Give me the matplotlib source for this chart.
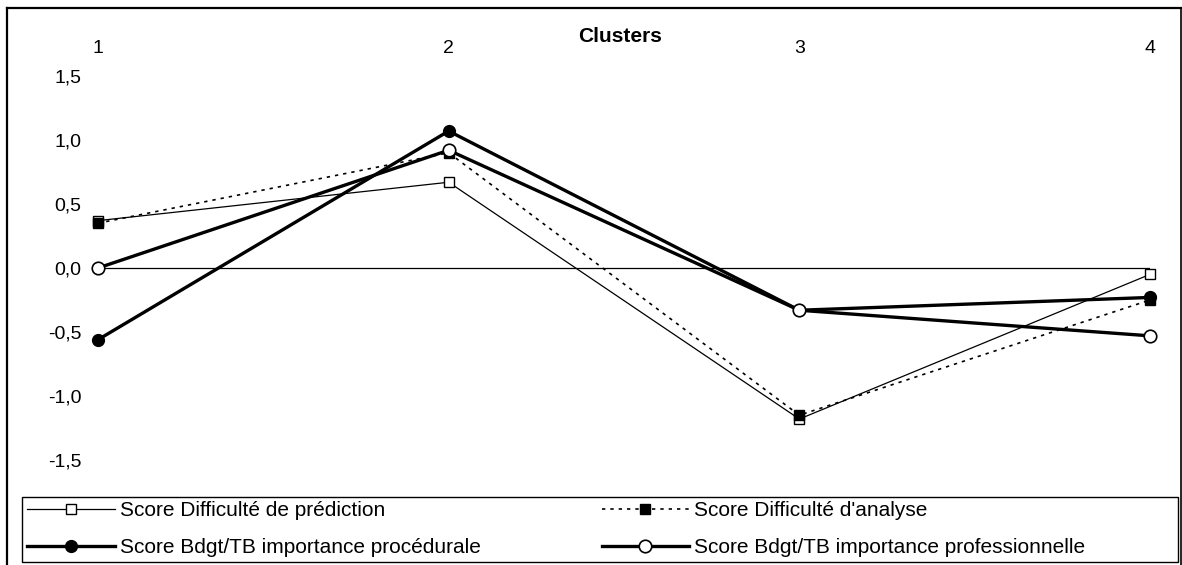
import matplotlib.pyplot as plt
from matplotlib.lines import Line2D
from matplotlib.patches import Rectangle

plt.rcParams['font.family'] = ['Liberation Sans', 'DejaVu Sans']

clusters = [1, 2, 3, 4]
cluster_labels = ['1', '2', '3', '4']
pred = [0.37, 0.67, -1.18, -0.05]
analyse = [0.35, 0.90, -1.15, -0.25]
proc = [-0.56, 1.07, -0.33, -0.23]
prof = [0.00, 0.92, -0.33, -0.53]
yticks = [1.5, 1.0, 0.5, 0.0, -0.5, -1.0, -1.5]
ytick_labels = ['1,5', '1,0', '0,5', '0,0', '-0,5', '-1,0', '-1,5']

W, H = 1182, 565
fig = plt.figure(figsize=(W / 100, H / 100), dpi=100)

# plot area in pixel terms (0 at y=268, 128 px per unit)
left, right, top, bottom = 98, 1150, 58, 490
ax = fig.add_axes([left / W, 1 - bottom / H, (right - left) / W, (bottom - top) / H])
ax.set_xlim(1, 4)
ax.set_ylim((268 - bottom) / 128, (268 - top) / 128)

ax.axhline(0, color='black', lw=0.9, zorder=1)

ax.plot(clusters, pred, color='black', lw=0.9, marker='s', ms=6.5,
        mfc='white', mec='black', mew=1, clip_on=False, zorder=3,
        label='Score Difficulté de prédiction')
ax.plot(clusters, analyse, color='black', lw=1.2, ls=(0, (2, 3)), marker='s', ms=6.5,
        mfc='black', mec='black', clip_on=False, zorder=4,
        label="Score Difficulté d'analyse")
ax.plot(clusters, proc, color='black', lw=2.4, marker='o', ms=8.5,
        mfc='black', mec='black', clip_on=False, zorder=5,
        label='Score Bdgt/TB importance procédurale')
ax.plot(clusters, prof, color='black', lw=2.4, marker='o', ms=9,
        mfc='white', mec='black', mew=1.2, clip_on=False, zorder=6,
        label='Score Bdgt/TB importance professionnelle')

for s in ax.spines.values():
    s.set_visible(False)
ax.xaxis.tick_top()
ax.set_xticks(clusters)
ax.set_xticklabels(cluster_labels, fontsize=14)
ax.tick_params(axis='x', length=0, pad=1)
ax.set_yticks(yticks)
ax.set_yticklabels(ytick_labels, fontsize=14)
ax.tick_params(axis='y', length=0, pad=12)

fig.text(620 / W, 1 - 36 / H, 'Clusters', ha='center', va='center',
         fontsize=15, fontweight='bold')

# outer frame
fig.add_artist(Line2D([7 / W, 7 / W], [0, 1 - 8 / H], color='black', lw=1.6,
                      transform=fig.transFigure))
fig.add_artist(Line2D([7 / W, 1], [1 - 8 / H, 1 - 8 / H], color='black', lw=1.6,
                      transform=fig.transFigure))
fig.add_artist(Line2D([1180.5 / W, 1180.5 / W], [0, 1 - 8 / H], color='black', lw=1.2,
                      transform=fig.transFigure))

# legend box spans the full width
fig.add_artist(Rectangle((22 / W, 3 / H), 1156 / W, 65 / H, transform=fig.transFigure,
                         fill=False, edgecolor='black', lw=1.0))

handles, labels = ax.get_legend_handles_labels()
order = [0, 2, 1, 3]  # row-wise: pred, analyse / proc, prof
leg = fig.legend([handles[i] for i in order], [labels[i] for i in order],
                 loc='lower left', ncol=2,
                 bbox_to_anchor=(22 / W, 3 / H),
                 fontsize=15, handlelength=4.2, handletextpad=0.25,
                 columnspacing=5.8, frameon=False,
                 borderpad=0.25, labelspacing=0.85, borderaxespad=0)

fig.savefig('out.png', dpi=100)
